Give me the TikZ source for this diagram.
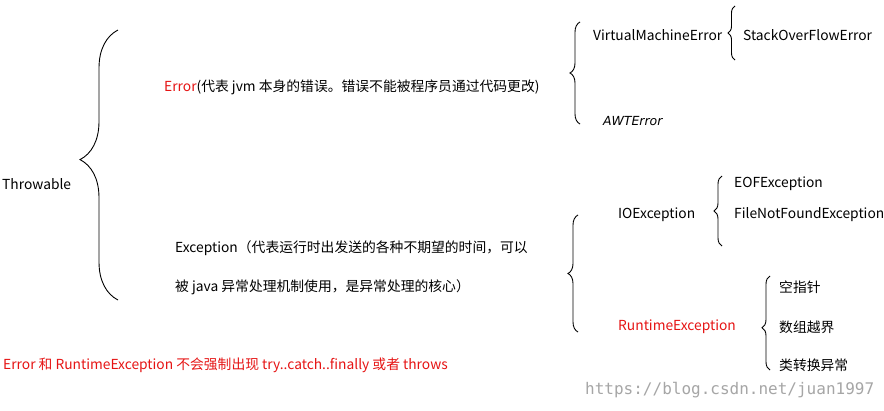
\documentclass[tikz,border=0pt]{standalone}
\usepackage{fontspec}
\setmainfont{Noto Sans CJK SC}
\newfontfamily\wmfont{DejaVu Sans Mono}
\newfontfamily\obfont{DejaVu Sans}
\usetikzlibrary{decorations.pathreplacing}
\definecolor{err}{RGB}{230,20,20}
\tikzset{lbl/.style={anchor=west,inner sep=0pt,font=\fontsize{13.8}{16}\selectfont},
br/.style={decorate,decoration={brace,amplitude=#1},line width=0.9pt},br/.default=8pt}
\begin{document}
\begin{tikzpicture}[x=1pt,y=-1pt]
\useasboundingbox[fill=white] (0,0) rectangle (884,410);
\node[lbl] (thr) at (2,184) {Throwable};
\draw[br=38pt,decoration={aspect=0.52}] (118,300) -- (118,30);
\node[lbl] (err) at (164,87) {\textcolor{err}{Error}(代表 jvm 本身的错误。错误不能被程序员通过代码更改)};
\node[lbl] (exc1) at (175,248) {Exception（代表运行时出发送的各种不期望的时间，可以};
\node[lbl] (exc2) at (175,287) {被 java 异常处理机制使用，是异常处理的核心）};
\draw[br=10pt,decoration={aspect=0.5}] (580,124) -- (580,22);
\node[lbl] (vm) at (593,35) {VirtualMachineError};
\node[lbl,font=\fontsize{12.5}{16}\obfont\itshape] (awt) at (603,121) {AWTError};
\draw[br=7pt,decoration={aspect=0.5}] (735,60) -- (735,6);
\node[lbl] (so) at (743,35) {StackOverFlowError};
\draw[br=10pt,decoration={aspect=0.5}] (578,332) -- (578,215);
\node[lbl] (io) at (618,215) {IOException};
\node[lbl,text=err] (rt) at (618,327) {RuntimeException};
\draw[br=8pt,decoration={aspect=0.5}] (722,246) -- (722,176);
\node[lbl] (eof) at (734,184) {EOFException};
\node[lbl] (fnf) at (734,215) {FileNotFoundException};
\draw[br=8pt,decoration={aspect=0.45}] (770,370) -- (770,276);
\node[lbl] (n1) at (779,287) {空指针};
\node[lbl] (n2) at (779,327) {数组越界};
\node[lbl] (n3) at (779,365) {类转换异常};
\node[lbl,text=err] (note) at (3,365) {Error 和 RuntimeException 不会强制出现 try..catch..finally 或者 throws};
\node[lbl,text=gray!70,font=\fontsize{16}{18}\wmfont] (wm) at (585,390) {https://blog.csdn.net/juan1997};
\end{tikzpicture}
\end{document}
